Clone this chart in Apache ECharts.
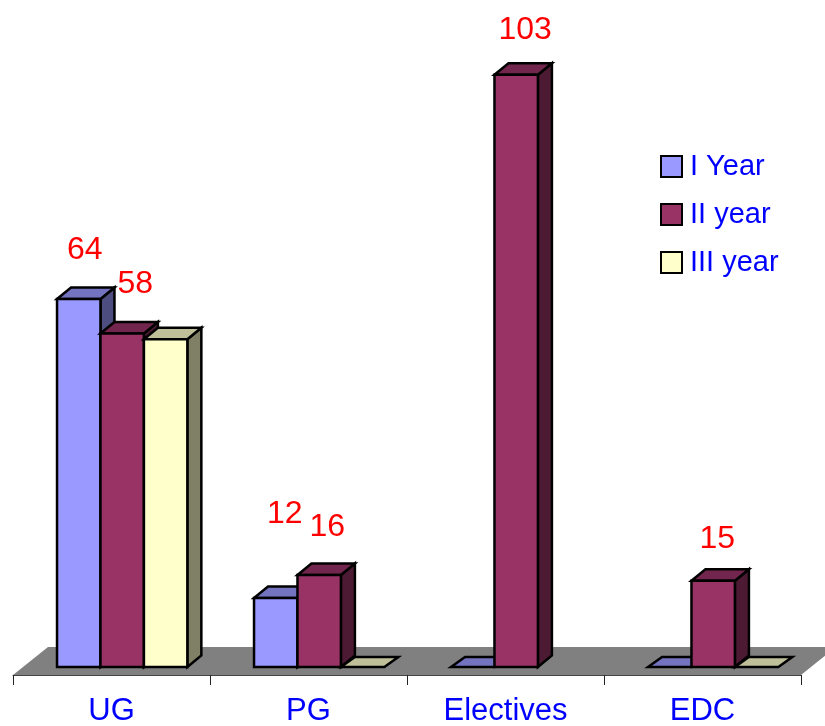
<!DOCTYPE html>
<html>
<head>
<meta charset="utf-8">
<style>html,body{margin:0;padding:0;background:#fff}#c{width:825px;height:726px}</style>
<script src="https://cdn.jsdelivr.net/npm/echarts@6/dist/echarts.min.js"></script>
</head>
<body>
<div id="c"></div>
<script>
const categories = ['UG', 'PG', 'Electives', 'EDC'];
const seriesNames = ['I Year', 'II year', 'III year'];
const iYear = [64, 12, 0, 0];
const iiYear = [58, 16, 103, 15];
const iiiYear = [57, 0, null, 0];

const faces = [
  { front: '#9999FF', top: '#7373BF', side: '#4D4D80' },
  { front: '#993366', top: '#73264D', side: '#4D1A33' },
  { front: '#FFFFCC', top: '#BFBF99', side: '#808066' }
];
// which bars carry a data label, and the label's offset from the bar's front top centre
const labelOffsets = [
  [[6, -49], [9, -84], null, null],
  [[13, -49], [8, -48], [9, -45], [4, -42]],
  [null, null, null, null]
];
const DEPTH_X = 14, DEPTH_Y = 11.5, DEPTH_Y_FLAT = 10, FONT = '"Liberation Sans", Arial, sans-serif';

function barItem(si) {
  return function (params, api) {
    const v = api.value(1);
    if (v == null || isNaN(v)) return;
    const ci = api.value(0);
    const band = api.size([1, 0])[0];
    const w = band * 0.2205;
    const base = api.coord([ci, 0]);
    const top = api.coord([ci, v]);
    const x0 = base[0] - band / 2 + band * 0.2235 + si * w;
    const x1 = x0 + w;
    const yb = base[1], yt = top[1];
    const dx = DEPTH_X, dy = v > 0 ? DEPTH_Y : DEPTH_Y_FLAT;
    const c = faces[si];
    const edge = { stroke: '#000', lineWidth: 2.5, lineJoin: 'miter' };
    const children = [];
    if (v > 0) {
      children.push({ type: 'polygon', shape: { points: [[x1, yb], [x1 + dx, yb - dy], [x1 + dx, yt - dy], [x1, yt]] }, style: Object.assign({ fill: c.side }, edge) });
    }
    children.push({ type: 'polygon', shape: { points: [[x0, yt], [x0 + dx, yt - dy], [x1 + dx, yt - dy], [x1, yt]] }, style: Object.assign({ fill: c.top }, edge) });
    if (v > 0) {
      children.push({ type: 'rect', shape: { x: x0, y: yt, width: w, height: yb - yt }, style: Object.assign({ fill: c.front }, edge) });
    }
    const off = labelOffsets[si][ci];
    if (off) {
      children.push({ type: 'text', z2: 100, style: { text: String(v), x: (x0 + x1) / 2 + off[0], y: yt + off[1], fill: '#FF0000', font: '32px ' + FONT, align: 'center', verticalAlign: 'middle' } });
    }
    return { type: 'group', children };
  };
}

function floorItem(params, api) {
  const cs = params.coordSys;
  const y0 = api.coord([0, 0])[1];
  const front = cs.y + cs.height, back = y0 - 20, shift = 35;
  return {
    type: 'polygon',
    shape: { points: [[cs.x, front], [cs.x + shift, back], [cs.x + cs.width + shift, back], [cs.x + cs.width, front]] },
    style: { fill: '#808080' }
  };
}

const chart = echarts.init(document.getElementById('c'), null, { renderer: 'canvas' });
const columns = [iYear, iiYear, iiiYear];
chart.setOption({
  animation: false,
  backgroundColor: '#fff',
  grid: { left: 13, right: 24, top: 0, bottom: 51, containLabel: false, outerBoundsMode: 'none' },
  xAxis: {
    type: 'category',
    data: categories,
    z: 10,
    axisLine: { show: true, onZero: false, lineStyle: { color: '#444', width: 1 } },
    axisTick: { show: true, length: 10, inside: false, lineStyle: { color: '#222', width: 1 } },
    axisLabel: { color: '#0000FF', fontSize: 31, fontFamily: FONT, margin: 21 }
  },
  yAxis: { type: 'value', min: -1.39, max: 116, show: false, splitLine: { show: false } },
  legend: {
    orient: 'vertical',
    left: 660,
    top: 152,
    padding: 0,
    itemWidth: 21,
    itemHeight: 21,
    itemGap: 19,
    data: seriesNames.map(n => ({ name: n, icon: 'rect' })),
    textStyle: { color: '#0000FF', fontSize: 29, fontFamily: FONT, lineHeight: 20, padding: [0, 0, 0, 3] }
  },
  series: [
    { type: 'custom', silent: true, coordinateSystem: 'cartesian2d', data: [[0, 0]], renderItem: floorItem, z: 1 }
  ].concat(columns.map((vals, si) => ({
    type: 'custom',
    name: seriesNames[si],
    coordinateSystem: 'cartesian2d',
    z: 2 + si,
    itemStyle: { color: faces[si].front, borderColor: '#000', borderWidth: 2.5 },
    data: vals.map((v, i) => [i, v]),
    encode: { x: 0, y: 1 },
    renderItem: barItem(si)
  })))
});
</script>
</body>
</html>
